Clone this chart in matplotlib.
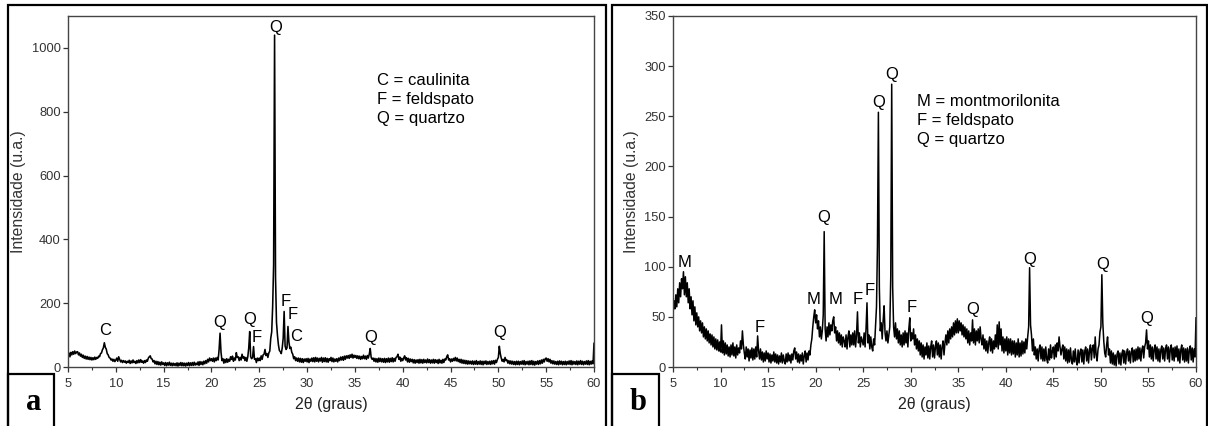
import numpy as np
import matplotlib.pyplot as plt
from matplotlib.patches import Rectangle
from matplotlib.ticker import MultipleLocator

plt.rcParams['font.family'] = ['Liberation Sans', 'DejaVu Sans']

# 2theta scan, 5 to 60 degrees in 0.1 degree steps
two_theta = np.round(np.arange(5.0, 60.05, 0.1), 1)

# (a) intensity, one row per degree (x.0 ... x.9)
int_a = [
    34, 44, 32, 46, 38, 48, 40, 50, 42, 47,   # 5
    48, 38, 44, 34, 40, 30, 37, 27, 34, 25,   # 6
    33, 24, 31, 23, 30, 22, 29, 23, 31, 24,   # 7
    30, 27, 34, 32, 42, 44, 54, 60, 76, 62,   # 8
    56, 42, 38, 30, 28, 22, 25, 18, 24, 17,   # 9
    22, 28, 18, 32, 24, 16, 21, 14, 20, 15,   # 10
    19, 12, 18, 14, 21, 11, 19, 13, 22, 14,   # 11
    18, 11, 20, 13, 22, 14, 23, 15, 19, 12,   # 12
    20, 14, 22, 18, 28, 32, 35, 26, 25, 16,   # 13
    20, 10, 18, 8, 17, 7, 15, 6, 16, 8,       # 14
    13, 5, 14, 4, 13, 6, 15, 5, 12, 4,        # 15
    12, 5, 11, 4, 13, 3, 12, 5, 14, 4,        # 16
    13, 4, 12, 3, 12, 5, 14, 4, 13, 5,        # 17
    14, 5, 15, 6, 12, 7, 16, 5, 17, 8,        # 18
    16, 7, 18, 10, 20, 12, 24, 16, 28, 20,    # 19
    26, 18, 28, 16, 28, 20, 30, 22, 55, 106,  # 20
    46, 20, 26, 12, 24, 14, 26, 15, 24, 18,   # 21
    32, 24, 34, 18, 28, 22, 45, 30, 32, 20,   # 22
    30, 22, 40, 28, 32, 20, 30, 18, 32, 60,   # 23
    111, 32, 26, 30, 64, 24, 26, 14, 28, 20,  # 24
    28, 20, 35, 24, 38, 40, 55, 36, 42, 30,   # 25
    44, 50, 90, 110, 190, 320, 1040, 280, 140, 100,  # 26
    70, 52, 48, 42, 60, 90, 174, 66, 55, 60,  # 27
    127, 78, 58, 62, 46, 40, 26, 32, 20, 28,  # 28
    18, 28, 16, 27, 15, 26, 14, 25, 18, 26,   # 29
    16, 27, 14, 25, 18, 28, 17, 29, 16, 30,   # 30
    18, 28, 16, 27, 19, 30, 15, 28, 17, 29,   # 31
    16, 27, 15, 26, 20, 30, 17, 28, 16, 25,   # 32
    18, 26, 16, 28, 20, 31, 22, 32, 21, 34,   # 33
    24, 35, 28, 36, 27, 38, 30, 40, 28, 37,   # 34
    30, 36, 27, 35, 26, 34, 24, 33, 26, 37,   # 35
    26, 34, 24, 36, 28, 40, 58, 30, 24, 28,   # 36
    18, 27, 16, 26, 15, 28, 17, 27, 16, 26,   # 37
    15, 27, 14, 26, 16, 28, 15, 27, 17, 29,   # 38
    16, 27, 18, 30, 32, 40, 24, 31, 18, 27,   # 39
    20, 28, 35, 22, 29, 16, 27, 15, 25, 17,   # 40
    24, 13, 23, 12, 22, 14, 23, 12, 24, 13,   # 41
    23, 12, 24, 14, 22, 13, 25, 14, 23, 12,   # 42
    22, 13, 24, 12, 23, 14, 22, 11, 24, 13,   # 43
    21, 12, 24, 14, 25, 22, 32, 38, 22, 26,   # 44
    16, 25, 18, 27, 20, 30, 19, 28, 17, 24,   # 45
    14, 24, 12, 22, 11, 21, 10, 20, 9, 19,    # 46
    10, 18, 9, 19, 8, 18, 9, 20, 8, 17,       # 47
    9, 19, 8, 18, 7, 18, 10, 19, 8, 17,       # 48
    9, 18, 8, 19, 10, 20, 9, 21, 14, 24,      # 49
    30, 65, 42, 28, 18, 24, 16, 30, 20, 22,   # 50
    12, 20, 10, 19, 9, 18, 8, 17, 7, 18,      # 51
    8, 18, 7, 17, 9, 19, 8, 20, 7, 17,        # 52
    9, 18, 7, 19, 8, 20, 7, 18, 6, 17,        # 53
    9, 19, 8, 20, 10, 22, 12, 24, 16, 26,     # 54
    28, 18, 26, 16, 24, 12, 20, 10, 19, 9,    # 55
    17, 8, 18, 7, 19, 9, 18, 7, 17, 8,        # 56
    18, 7, 17, 9, 19, 8, 20, 7, 18, 9,        # 57
    17, 8, 19, 7, 18, 9, 20, 8, 18, 7,        # 58
    17, 9, 19, 8, 20, 7, 18, 9, 19, 10,       # 59
    74,                                       # 60
]

# (b) intensity
int_b = [
    52, 66, 58, 72, 60, 78, 64, 84, 70, 88,   # 5
    78, 95, 72, 90, 70, 84, 64, 78, 58, 70,   # 6
    52, 66, 46, 60, 42, 54, 40, 50, 36, 46,   # 7
    34, 44, 30, 40, 28, 38, 26, 36, 24, 33,   # 8
    22, 32, 20, 30, 18, 28, 17, 27, 16, 25,   # 9
    15, 42, 14, 26, 12, 24, 13, 22, 11, 20,   # 10
    10, 22, 12, 24, 11, 20, 9, 22, 12, 19,    # 11
    14, 26, 18, 36, 22, 14, 8, 20, 10, 18,    # 12
    6, 17, 9, 19, 7, 18, 8, 20, 10, 31,       # 13
    16, 8, 18, 7, 15, 5, 14, 6, 16, 8,        # 14
    14, 5, 13, 4, 12, 6, 15, 5, 13, 4,        # 15
    12, 3, 11, 5, 14, 4, 12, 6, 3, 13,        # 16
    5, 14, 6, 12, 4, 13, 7, 16, 19, 8,        # 17
    15, 5, 13, 4, 12, 6, 14, 3, 11, 16,       # 18
    5, 14, 7, 16, 12, 22, 28, 40, 50, 57,     # 19
    44, 52, 38, 46, 30, 40, 28, 36, 52, 135,  # 20
    38, 26, 40, 30, 44, 32, 42, 36, 46, 50,   # 21
    34, 40, 26, 36, 24, 34, 22, 32, 20, 30,   # 22
    26, 20, 32, 18, 30, 36, 20, 32, 22, 34,   # 23
    22, 36, 20, 32, 55, 24, 34, 20, 30, 26,   # 24
    22, 34, 20, 38, 64, 24, 32, 18, 30, 20,   # 25
    16, 28, 22, 42, 60, 120, 254, 80, 36, 44, # 26
    28, 46, 61, 34, 26, 36, 24, 32, 40, 90,   # 27
    282, 80, 40, 30, 44, 28, 38, 24, 36, 22,  # 28
    32, 20, 34, 22, 36, 24, 34, 20, 38, 49,   # 29
    26, 34, 28, 38, 22, 32, 18, 28, 16, 26,   # 30
    12, 24, 10, 22, 8, 20, 12, 24, 9, 21,     # 31
    8, 20, 26, 10, 22, 9, 20, 26, 12, 24,     # 32
    10, 22, 8, 20, 26, 12, 24, 32, 22, 36,    # 33
    24, 38, 28, 40, 30, 44, 32, 46, 34, 48,   # 34
    34, 46, 36, 44, 32, 42, 30, 40, 28, 38,   # 35
    24, 36, 22, 34, 26, 47, 24, 38, 22, 36,   # 36
    26, 38, 24, 40, 28, 22, 32, 18, 28, 16,   # 37
    26, 14, 24, 30, 16, 28, 14, 26, 18, 32,   # 38
    20, 42, 18, 45, 22, 38, 16, 30, 14, 28,   # 39
    16, 30, 12, 28, 14, 28, 12, 26, 13, 26,   # 40
    10, 24, 12, 28, 10, 24, 11, 26, 13, 25,   # 41
    14, 28, 18, 30, 40, 99, 42, 32, 16, 28,   # 42
    12, 20, 8, 18, 6, 18, 22, 8, 20, 6,       # 43
    18, 6, 20, 8, 4, 18, 7, 22, 9, 16,        # 44
    20, 8, 22, 10, 24, 16, 30, 20, 12, 18,    # 45
    22, 8, 20, 6, 18, 4, 17, 5, 19, 7,        # 46
    3, 16, 5, 18, 6, 2, 17, 4, 15, 18,        # 47
    5, 17, 3, 16, 20, 6, 18, 4, 16, 22,       # 48
    7, 19, 22, 9, 30, 12, 6, 18, 22, 35,      # 49
    40, 92, 44, 26, 14, 10, 22, 30, 12, 18,   # 50
    4, 16, 3, 14, 2, 12, 1, 13, 16, 3,        # 51
    14, 2, 13, 17, 4, 16, 3, 14, 18, 6,       # 52
    16, 4, 15, 19, 5, 17, 6, 18, 7, 20,       # 53
    8, 19, 6, 17, 21, 9, 20, 24, 37, 18,      # 54
    26, 10, 22, 8, 20, 6, 18, 22, 8, 20,      # 55
    6, 18, 5, 17, 21, 8, 19, 6, 18, 22,       # 56
    8, 20, 5, 18, 22, 7, 19, 6, 20, 10,       # 57
    21, 6, 18, 4, 17, 22, 7, 19, 5, 18,       # 58
    6, 19, 4, 17, 21, 7, 19, 5, 18, 10,       # 59
    49,                                       # 60
]

# peak labels: (2theta, intensity position, letter)
peaks_a = [(8.9, 113, 'C'), (20.9, 141, 'Q'), (24.0, 148, 'Q'), (24.7, 94, 'F'),
           (26.7, 1065, 'Q'), (27.8, 205, 'F'), (28.5, 163, 'F'), (28.9, 95, 'C'),
           (36.6, 91, 'Q'), (50.1, 107, 'Q')]
peaks_b = [(6.2, 104, 'M'), (14.1, 39, 'F'), (19.8, 67, 'M'), (20.8, 149, 'Q'),
           (22.1, 67, 'M'), (24.4, 67, 'F'), (25.7, 76, 'F'), (26.65, 264, 'Q'),
           (27.95, 292, 'Q'), (30.1, 59, 'F'), (36.55, 57, 'Q'), (42.5, 107, 'Q'),
           (50.15, 102, 'Q'), (54.85, 48, 'Q')]

legend_a = 'C = caulinita\nF = feldspato\nQ = quartzo'
legend_b = 'M = montmorilonita\nF = feldspato\nQ = quartzo'

W, H = 1208, 426
fig = plt.figure(figsize=(W / 100, H / 100), dpi=100)

def fx(px):
    return px / W

def fy(py):
    return 1 - py / H

ax_a = fig.add_axes([fx(68), fy(367), fx(594) - fx(68), fy(16) - fy(367)])
ax_b = fig.add_axes([fx(673), fy(367), fx(1196) - fx(673), fy(16) - fy(367)])

tick_grey = '#333333'

def style_axes(ax, ymax, ystep):
    ax.set_xlim(5, 60)
    ax.set_ylim(0, ymax)
    ax.xaxis.set_major_locator(MultipleLocator(5))
    ax.xaxis.set_minor_locator(MultipleLocator(2.5))
    ax.yaxis.set_major_locator(MultipleLocator(ystep))
    ax.tick_params(which='major', direction='out', length=3.6, width=0.9,
                   labelsize=9.3, colors=tick_grey)
    ax.tick_params(axis='x', which='major', pad=4.5)
    ax.tick_params(axis='y', which='major', pad=1.5)
    ax.tick_params(which='minor', direction='out', length=2.2, width=0.8,
                   colors=tick_grey)
    ax.tick_params(axis='y', which='minor', left=False)
    for sp in ax.spines.values():
        sp.set_color('#444444')
        sp.set_linewidth(1.0)
    ax.set_xlabel('2θ (graus)', fontsize=11.4, color='#222222', labelpad=5)
    ax.set_ylabel('Intensidade (u.a.)', fontsize=11.3, color='#333333', labelpad=4)

ax_a.plot(two_theta, int_a, color='black', lw=1.15)
style_axes(ax_a, 1100, 200)
for x, y, s in peaks_a:
    ax_a.text(x, y, s, ha='center', va='center', fontsize=12)

ax_b.plot(two_theta, int_b, color='black', lw=1.1)
style_axes(ax_b, 350, 50)
for x, y, s in peaks_b:
    ax_b.text(x, y, s, ha='center', va='center', fontsize=12)

fig.text(fx(377), fy(73), legend_a, fontsize=12, va='top', ha='left', linespacing=1.33)
fig.text(fx(917), fy(94), legend_b, fontsize=12, va='top', ha='left', linespacing=1.33)

# outer panel frames and letter boxes
for x0, x1 in [(8, 606), (612, 1207)]:
    fig.add_artist(Rectangle((fx(x0), fy(440)), fx(x1) - fx(x0), fy(5) - fy(440),
                             transform=fig.transFigure, fill=False,
                             edgecolor='black', lw=1.6))
for x0, x1, letter in [(8, 54, 'a'), (612, 659, 'b')]:
    fig.add_artist(Rectangle((fx(x0), fy(440)), fx(x1) - fx(x0), fy(374) - fy(440),
                             transform=fig.transFigure, fill=False,
                             edgecolor='black', lw=1.6))
    fig.text(fx((x0 + x1) / 2 + 3), fy(403), letter, family='Liberation Serif',
             fontweight='bold', fontsize=22, ha='center', va='center')

fig.savefig('out.png', dpi=100)
